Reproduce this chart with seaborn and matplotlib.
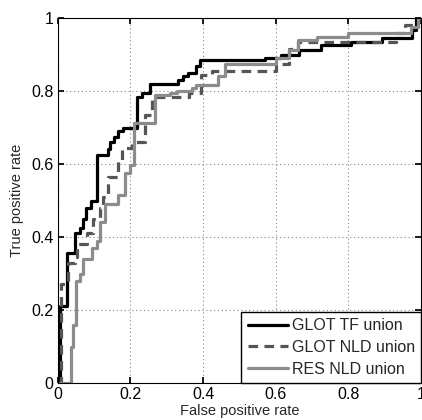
import matplotlib
matplotlib.use("Agg")
import matplotlib.pyplot as plt
import seaborn as sns

# step curves: (fpr, tpr) corners, drawn as steps-post
glot_tf_fpr = [0, 0.005, 0.025, 0.047, 0.06, 0.068, 0.078, 0.09, 0.108, 0.137, 0.145, 0.155,
               0.165, 0.18, 0.217, 0.233, 0.253, 0.33, 0.345, 0.357, 0.38, 0.39, 0.57, 0.615,
               0.665, 0.725, 0.807, 0.893, 0.975, 0.985, 1.0]
glot_tf_tpr = [0, 0.21, 0.356, 0.41, 0.425, 0.45, 0.48, 0.50, 0.625, 0.64, 0.66, 0.675,
               0.69, 0.70, 0.785, 0.795, 0.82, 0.83, 0.84, 0.85, 0.87, 0.885, 0.89, 0.90,
               0.912, 0.925, 0.935, 0.945, 0.967, 1.0, 1.0]

glot_nld_fpr = [0, 0.01, 0.027, 0.047, 0.052, 0.08, 0.096, 0.115, 0.124, 0.137, 0.165, 0.176,
                0.203, 0.24, 0.26, 0.36, 0.395, 0.425, 0.6, 0.637, 0.66, 0.93, 0.955, 0.99, 1.0]
glot_nld_tpr = [0, 0.27, 0.33, 0.345, 0.38, 0.41, 0.45, 0.48, 0.51, 0.565, 0.61, 0.645,
                0.66, 0.735, 0.785, 0.795, 0.845, 0.855, 0.875, 0.915, 0.935, 0.96, 0.98, 1.0, 1.0]

res_nld_fpr = [0, 0.036, 0.042, 0.05, 0.06, 0.07, 0.093, 0.107, 0.115, 0.13, 0.165, 0.184,
               0.198, 0.21, 0.267, 0.308, 0.327, 0.37, 0.38, 0.44, 0.46, 0.6, 0.637, 0.66,
               0.714, 0.8, 0.972, 0.99, 1.0]
res_nld_tpr = [0, 0.10, 0.16, 0.28, 0.30, 0.34, 0.37, 0.39, 0.44, 0.49, 0.515, 0.575,
               0.597, 0.712, 0.79, 0.795, 0.80, 0.808, 0.816, 0.84, 0.875, 0.89, 0.912, 0.94,
               0.948, 0.96, 0.975, 1.0, 1.0]

labels = ["GLOT TF union", "GLOT NLD union", "RES NLD union"]
ticks = [0, 0.2, 0.4, 0.6, 0.8, 1]
tick_labels = ["0", "0.2", "0.4", "0.6", "0.8", "1"]

sns.set_theme(style="ticks")
plt.rcParams["font.family"] = ["Liberation Sans", "DejaVu Sans"]

fig = plt.figure(figsize=(4.22, 4.20), dpi=100)
ax = fig.add_axes([0.137, 0.088, 0.861, 0.869])

lw = 2.3
sns.lineplot(x=glot_tf_fpr, y=glot_tf_tpr, ax=ax, sort=False, estimator=None,
             drawstyle="steps-post", color="black", linewidth=lw, label=labels[0])
sns.lineplot(x=glot_nld_fpr, y=glot_nld_tpr, ax=ax, sort=False, estimator=None,
             drawstyle="steps-post", color="#555555", linewidth=lw, label=labels[1],
             linestyle=(0, (3, 2)))
sns.lineplot(x=res_nld_fpr, y=res_nld_tpr, ax=ax, sort=False, estimator=None,
             drawstyle="steps-post", color="#8c8c8c", linewidth=lw, label=labels[2])

ax.set_xlim(0, 1)
ax.set_ylim(0, 1)
ax.set_xticks(ticks)
ax.set_yticks(ticks)
ax.set_xticklabels(tick_labels)
ax.set_yticklabels(tick_labels)
ax.tick_params(direction="in", top=True, right=True, labelsize=11.5, length=4, pad=3,
               color="black", labelcolor="black")
ax.grid(True, linestyle=(0, (1, 2.5)), color="#888888", linewidth=0.8)
for s in ax.spines.values():
    s.set_visible(True)
    s.set_color("black")
    s.set_linewidth(0.8)

ax.set_xlabel("False positive rate", fontsize=10.5, labelpad=1)
ax.set_ylabel("True positive rate", fontsize=10.5, labelpad=5)

leg = ax.legend(loc="lower right", fontsize=11.5, frameon=True, fancybox=False,
                framealpha=1, edgecolor="black", borderaxespad=0, handlelength=2.5,
                handletextpad=0.25, labelspacing=0.42, borderpad=0.4)
leg.get_frame().set_linewidth(1.0)

fig.savefig("out.png", dpi=100)
